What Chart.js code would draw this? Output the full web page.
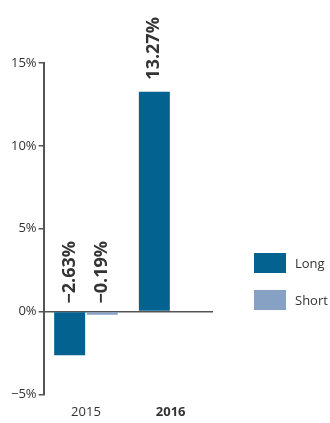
<!DOCTYPE html>
<html>
<head>
<meta charset="utf-8">
<script src="https://cdn.jsdelivr.net/npm/chart.js@4"></script>
<style>
  body { margin: 0; background: #fff; }
  #wrap { position: relative; width: 330px; height: 423px; }
  #legend { position: absolute; left: 254px; top: 253px; font-family: "Open Sans", sans-serif; font-size: 13px; color: #333; }
  .item { display: flex; align-items: center; height: 20px; margin-bottom: 17px; }
  .box { width: 32px; height: 20px; margin-right: 9px; }
</style>
</head>
<body>
<div id="wrap">
  <canvas id="myChart" width="330" height="423"></canvas>
  <div id="legend"></div>
</div>
<script>
const categories = ['2015', '2016'];
const seriesNames = ['Long', 'Short'];
const longValues = [-2.63, 13.27];
const shortValues = [-0.19, null];
const yTicks = [-5, 0, 5, 10, 15];
const colors = ['#03628f', '#87a1c5'];

// rotated value labels above each bar (or above the zero line for negatives)
const valueLabels = {
    id: 'valueLabels',
    afterDatasetsDraw(chart) {
        const ctx = chart.ctx;
        const y = chart.scales.y;
        chart.data.datasets.forEach((ds, i) => {
            chart.getDatasetMeta(i).data.forEach((bar, j) => {
                const v = ds.data[j];
                if (v === null) return;
                const top = y.getPixelForValue(Math.max(v, 0)) - (v > 0 ? 12 : 8);
                ctx.save();
                ctx.translate(bar.x, top);
                ctx.rotate(-Math.PI / 2);
                ctx.font = 'bold 18px "Open Sans", sans-serif';
                ctx.fillStyle = '#333';
                ctx.textAlign = 'left';
                ctx.textBaseline = 'middle';
                ctx.fillText(v.toFixed(2).replace('-', '\u2212') + '%', 0, 0);
                ctx.restore();
            });
        });
    }
};

const ctx = document.getElementById('myChart').getContext('2d');
const chart = new Chart(ctx, {
    type: 'bar',
    data: {
        labels: categories,
        datasets: [
            { label: seriesNames[0], data: longValues, backgroundColor: colors[0] },
            { label: seriesNames[1], data: shortValues, backgroundColor: colors[1] }
        ]
    },
    options: {
        responsive: false,
        animation: false,
        categoryPercentage: 0.77,
        barPercentage: 0.95,
        layout: { padding: { top: 63, right: 117, left: 9, bottom: -7 } },
        plugins: {
            legend: { display: false },
            tooltip: { enabled: false }
        },
        scales: {
            x: {
                grid: { display: false, drawTicks: false },
                border: { display: false },
                ticks: {
                    color: '#333',
                    padding: 10,
                    font: c => ({ family: '"Open Sans", sans-serif', size: 13, weight: c.index === 1 ? 'bold' : 'normal' })
                }
            },
            y: {
                min: -5,
                max: 15,
                afterBuildTicks: axis => { axis.ticks = yTicks.map(v => ({ value: v })); },
                border: { display: true, color: '#555', width: 2 },
                grid: {
                    drawOnChartArea: true,
                    color: c => (c.tick && c.tick.value === 0 ? '#555' : 'rgba(0,0,0,0)'),
                    tickColor: '#555',
                    tickLength: 5,
                    lineWidth: 1.5
                },
                ticks: {
                    color: '#333',
                    padding: 2,
                    font: { family: '"Open Sans", sans-serif', size: 13 },
                    callback: v => (v < 0 ? '\u2212' + Math.abs(v) : v) + '%'
                }
            }
        }
    },
    plugins: [valueLabels]
});

document.getElementById('legend').innerHTML = chart.data.datasets.map(ds =>
    '<div class="item"><span class="box" style="background:' + ds.backgroundColor + '"></span>' + ds.label + '</div>'
).join('');
</script>
</body>
</html>
